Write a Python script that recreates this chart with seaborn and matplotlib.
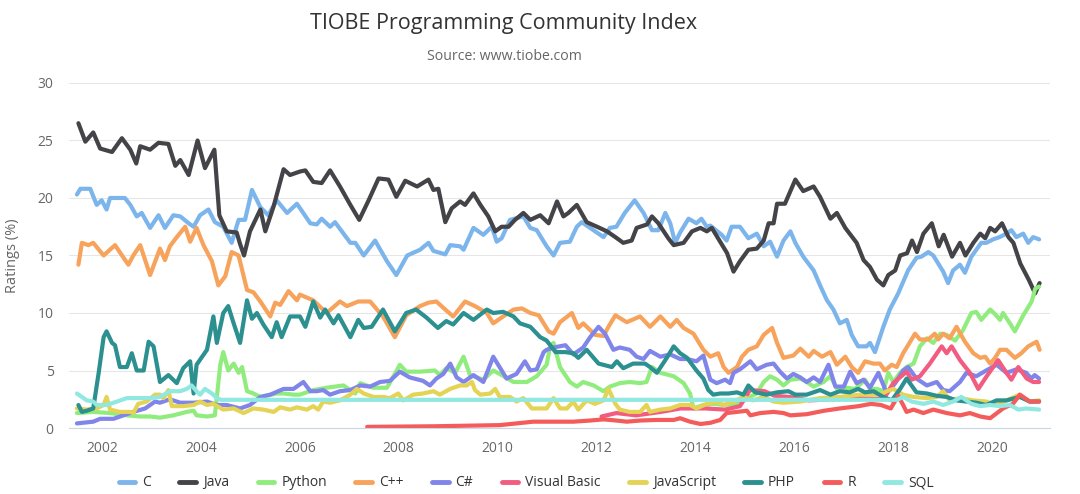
import numpy as np
import pandas as pd
import matplotlib.pyplot as plt
import seaborn as sns
from matplotlib.lines import Line2D

# TIOBE index, values (year as decimal, rating in %)

langs = ["C", "Java", "Python", "C++", "C#", "Visual Basic", "JavaScript", "PHP", "R", "SQL"]
colors = ["#7cb5ec", "#434348", "#90ed7d", "#f7a35c", "#8085e9",
          "#f15c80", "#e4d354", "#2b908f", "#f45b5b", "#91e8e1"]

c_year = [2001.49, 2001.56, 2001.76, 2001.89, 2001.99, 2002.09, 2002.16, 2002.36, 2002.46, 2002.57,
          2002.70, 2002.80, 2002.97, 2003.14, 2003.27, 2003.44, 2003.58, 2003.75, 2003.85, 2003.98,
          2004.15, 2004.28, 2004.45, 2004.62, 2004.76, 2004.89, 2005.03, 2005.20, 2005.36, 2005.53,
          2005.74, 2005.94, 2006.21, 2006.34, 2006.44, 2006.61, 2006.71, 2007.02, 2007.12, 2007.29,
          2007.52, 2007.76, 2007.95, 2008.17, 2008.43, 2008.60, 2008.70, 2008.94, 2009.04, 2009.24,
          2009.31, 2009.51, 2009.71, 2009.88, 2009.98, 2010.08, 2010.25, 2010.52, 2010.66, 2010.79,
          2010.99, 2011.13, 2011.26, 2011.46, 2011.60, 2011.70, 2011.87, 2012.14, 2012.27, 2012.40,
          2012.57, 2012.77, 2012.95, 2013.12, 2013.25, 2013.39, 2013.49, 2013.59, 2013.69, 2013.86,
          2014.02, 2014.12, 2014.23, 2014.30, 2014.53, 2014.63, 2014.73, 2014.90, 2015.07, 2015.24,
          2015.38, 2015.51, 2015.65, 2015.78, 2015.92, 2016.02, 2016.18, 2016.39, 2016.52, 2016.66,
          2016.79, 2016.92, 2017.06, 2017.16, 2017.29, 2017.46, 2017.53, 2017.63, 2017.80, 2017.93,
          2018.10, 2018.30, 2018.47, 2018.57, 2018.71, 2018.81, 2018.91, 2019.01, 2019.11, 2019.21,
          2019.35, 2019.45, 2019.58, 2019.68, 2019.78, 2019.88, 2020.02, 2020.15, 2020.29, 2020.39,
          2020.49, 2020.63, 2020.73, 2020.83, 2020.95]
c_val = [20.3, 20.8, 20.8, 19.4, 19.8, 19.0, 20.0, 20.0, 20.0, 19.4,
         18.4, 18.7, 17.4, 18.5, 17.4, 18.5, 18.4, 17.8, 17.5, 18.5,
         19.0, 17.9, 17.5, 16.1, 18.1, 18.1, 20.7, 19.2, 18.5, 19.8,
         18.7, 19.5, 17.8, 17.7, 18.2, 17.5, 17.9, 16.1, 16.1, 15.0,
         16.3, 14.5, 13.3, 15.0, 15.5, 16.1, 15.4, 15.1, 15.9, 15.8,
         15.5, 17.4, 16.8, 17.5, 16.2, 16.5, 18.1, 18.4, 17.4, 17.2,
         15.8, 15.0, 16.1, 16.2, 17.5, 17.9, 17.4, 16.6, 17.4, 17.5,
         18.7, 19.8, 18.7, 17.2, 17.2, 18.7, 17.8, 16.1, 17.0, 18.2,
         17.8, 18.2, 17.5, 17.6, 16.8, 16.3, 17.5, 17.5, 16.5, 16.9,
         15.8, 16.2, 14.9, 16.3, 17.1, 16.1, 14.9, 13.7, 12.4, 11.1,
         10.3, 9.1, 9.4, 8.1, 7.1, 7.1, 7.4, 6.6, 8.8, 10.3,
         11.7, 13.7, 14.8, 14.9, 15.3, 15.0, 14.3, 13.6, 12.6, 13.7,
         14.2, 13.5, 14.9, 15.5, 16.1, 16.1, 16.4, 16.6, 16.9, 17.2,
         16.6, 16.9, 16.1, 16.6, 16.4]

java_year = [2001.52, 2001.66, 2001.82, 2001.96, 2002.20, 2002.40, 2002.57, 2002.69, 2002.77, 2002.97,
             2003.14, 2003.34, 2003.48, 2003.58, 2003.75, 2003.93, 2004.08, 2004.27, 2004.37, 2004.52,
             2004.72, 2004.79, 2004.87, 2004.99, 2005.20, 2005.30, 2005.47, 2005.67, 2005.80, 2006.00,
             2006.11, 2006.27, 2006.44, 2006.61, 2006.81, 2007.02, 2007.20, 2007.39, 2007.59, 2007.79,
             2007.95, 2008.13, 2008.37, 2008.60, 2008.70, 2008.80, 2008.94, 2009.07, 2009.24, 2009.34,
             2009.51, 2009.65, 2009.81, 2009.95, 2010.08, 2010.22, 2010.35, 2010.52, 2010.66, 2010.86,
             2011.03, 2011.20, 2011.33, 2011.43, 2011.60, 2011.80, 2012.01, 2012.21, 2012.38, 2012.54,
             2012.71, 2012.81, 2013.02, 2013.12, 2013.25, 2013.45, 2013.56, 2013.76, 2013.93, 2014.10,
             2014.23, 2014.33, 2014.50, 2014.64, 2014.77, 2014.90, 2015.07, 2015.24, 2015.38, 2015.48,
             2015.58, 2015.65, 2015.81, 2016.02, 2016.18, 2016.39, 2016.52, 2016.73, 2016.86, 2017.03,
             2017.26, 2017.40, 2017.53, 2017.67, 2017.80, 2017.90, 2018.04, 2018.14, 2018.28, 2018.38,
             2018.48, 2018.61, 2018.78, 2018.92, 2019.02, 2019.19, 2019.35, 2019.46, 2019.62, 2019.76,
             2019.86, 2019.96, 2020.06, 2020.20, 2020.33, 2020.43, 2020.57, 2020.74, 2020.87, 2020.96]
java_val = [26.5, 24.9, 25.7, 24.3, 24.0, 25.2, 24.2, 23.0, 24.5, 24.2,
            24.8, 24.7, 22.8, 23.3, 22.0, 25.0, 22.6, 24.2, 18.5, 17.1,
            17.0, 16.0, 15.0, 17.1, 19.0, 17.1, 19.3, 22.5, 22.0, 22.3,
            22.4, 21.4, 21.3, 22.4, 21.0, 19.4, 18.1, 19.8, 21.7, 21.6,
            20.1, 21.5, 21.0, 21.6, 20.7, 20.8, 17.9, 19.1, 19.7, 19.4,
            20.4, 19.4, 18.4, 17.1, 17.5, 17.5, 18.1, 18.7, 18.1, 18.5,
            17.8, 19.7, 18.4, 18.7, 19.4, 17.9, 17.5, 17.1, 16.6, 16.1,
            16.3, 17.4, 17.7, 18.4, 17.8, 16.5, 15.9, 16.1, 17.1, 17.4,
            17.1, 17.4, 16.2, 15.2, 13.6, 14.5, 15.5, 15.6, 16.3, 17.8,
            17.8, 19.5, 19.5, 21.6, 20.6, 21.0, 20.1, 18.2, 18.7, 17.4,
            16.1, 14.6, 14.0, 12.9, 12.4, 13.3, 13.7, 15.0, 15.2, 16.3,
            15.3, 16.9, 17.8, 15.8, 16.8, 14.9, 16.1, 15.0, 16.1, 16.9,
            16.5, 17.4, 17.1, 17.8, 16.6, 16.1, 14.3, 12.9, 11.7, 12.6]

python_year = [2001.49, 2001.82, 2002.16, 2002.50, 2002.77, 2002.97, 2003.17, 2003.44, 2003.71, 2003.85,
               2003.91, 2004.12, 2004.28, 2004.39, 2004.45, 2004.55, 2004.66, 2004.76, 2004.83, 2004.93,
               2005.06, 2005.20, 2005.53, 2005.67, 2005.87, 2006.00, 2006.27, 2006.54, 2006.88, 2007.12,
               2007.22, 2007.48, 2007.76, 2007.92, 2008.02, 2008.15, 2008.43, 2008.73, 2008.83, 2008.96,
               2009.14, 2009.31, 2009.44, 2009.71, 2009.91, 2010.04, 2010.32, 2010.59, 2010.79, 2010.99,
               2011.06, 2011.13, 2011.26, 2011.46, 2011.60, 2011.73, 2011.94, 2012.14, 2012.27, 2012.47,
               2012.67, 2012.88, 2013.01, 2013.12, 2013.29, 2013.56, 2013.76, 2013.89, 2013.96, 2014.16,
               2014.36, 2014.57, 2014.90, 2015.04, 2015.24, 2015.38, 2015.51, 2015.65, 2015.78, 2015.92,
               2016.12, 2016.25, 2016.39, 2016.59, 2016.73, 2016.89, 2017.06, 2017.23, 2017.43, 2017.53,
               2017.67, 2017.80, 2017.90, 2018.00, 2018.14, 2018.27, 2018.41, 2018.54, 2018.68, 2018.81,
               2018.95, 2019.08, 2019.25, 2019.41, 2019.58, 2019.68, 2019.78, 2019.96, 2020.06, 2020.16,
               2020.22, 2020.36, 2020.46, 2020.63, 2020.80, 2020.87, 2020.95]
python_val = [1.3, 1.4, 1.3, 1.1, 1.0, 1.0, 0.9, 1.1, 1.4, 1.5,
              1.1, 1.0, 1.1, 5.5, 6.6, 5.0, 5.6, 4.8, 5.3, 3.2,
              3.0, 2.7, 3.0, 3.0, 2.9, 2.9, 3.3, 3.5, 3.7, 3.0,
              3.9, 3.5, 3.5, 4.7, 5.5, 4.9, 4.9, 5.0, 4.6, 5.2,
              4.8, 6.2, 4.6, 4.2, 5.0, 4.7, 4.0, 4.0, 4.5, 5.5,
              7.1, 7.4, 5.3, 4.0, 3.6, 4.0, 3.7, 3.2, 3.6, 3.9,
              4.0, 3.9, 4.0, 5.3, 4.8, 4.5, 3.9, 3.0, 1.7, 2.0,
              2.1, 2.0, 2.1, 2.6, 3.0, 4.0, 4.5, 4.2, 3.7, 4.2,
              4.3, 4.0, 3.6, 4.0, 4.5, 3.2, 3.5, 3.4, 4.2, 3.4,
              3.4, 3.2, 4.8, 4.0, 4.8, 5.3, 5.6, 7.1, 7.8, 7.4,
              8.2, 8.1, 7.6, 8.5, 10.0, 10.1, 9.4, 10.3, 9.9, 9.4,
              10.0, 9.1, 8.4, 9.8, 11.0, 12.1, 12.3]

cpp_year = [2001.52, 2001.59, 2001.72, 2001.82, 2002.03, 2002.26, 2002.53, 2002.63, 2002.77, 2002.97,
            2003.17, 2003.27, 2003.37, 2003.51, 2003.68, 2003.78, 2003.91, 2004.05, 2004.22, 2004.35,
            2004.49, 2004.62, 2004.76, 2004.93, 2005.06, 2005.20, 2005.40, 2005.50, 2005.60, 2005.77,
            2005.94, 2006.00, 2006.27, 2006.54, 2006.81, 2006.95, 2007.18, 2007.42, 2007.68, 2007.92,
            2008.15, 2008.43, 2008.60, 2008.76, 2008.94, 2009.10, 2009.34, 2009.54, 2009.78, 2009.91,
            2010.11, 2010.32, 2010.49, 2010.66, 2010.83, 2011.03, 2011.13, 2011.26, 2011.50, 2011.63,
            2011.73, 2011.97, 2012.14, 2012.24, 2012.38, 2012.61, 2012.88, 2013.08, 2013.29, 2013.49,
            2013.62, 2013.76, 2013.96, 2014.16, 2014.30, 2014.46, 2014.57, 2014.67, 2014.84, 2014.94,
            2015.07, 2015.24, 2015.38, 2015.55, 2015.65, 2015.78, 2015.98, 2016.12, 2016.29, 2016.39,
            2016.56, 2016.73, 2016.86, 2017.03, 2017.16, 2017.29, 2017.43, 2017.60, 2017.73, 2017.83,
            2017.97, 2018.07, 2018.20, 2018.30, 2018.44, 2018.54, 2018.71, 2018.84, 2018.91, 2019.01,
            2019.14, 2019.28, 2019.45, 2019.62, 2019.76, 2019.86, 2019.96, 2020.06, 2020.16, 2020.29,
            2020.46, 2020.59, 2020.73, 2020.90, 2020.96]
cpp_val = [14.2, 16.1, 15.9, 16.1, 15.0, 15.9, 14.2, 15.0, 15.9, 13.3,
           15.6, 14.6, 15.8, 16.6, 17.5, 16.2, 17.4, 15.9, 14.5, 12.4,
           13.2, 15.3, 15.0, 12.0, 11.8, 11.0, 9.7, 10.9, 10.7, 11.9,
           11.1, 11.6, 11.1, 10.0, 11.0, 10.6, 11.0, 11.0, 9.7, 7.9,
           9.8, 10.6, 10.9, 11.0, 10.3, 9.7, 11.0, 10.6, 10.0, 9.1,
           9.7, 10.3, 10.4, 10.0, 9.8, 8.4, 8.2, 9.2, 10.0, 8.7,
           9.1, 8.1, 8.0, 8.8, 9.8, 9.2, 9.7, 8.8, 9.7, 8.8,
           9.4, 8.7, 8.2, 6.8, 6.2, 6.5, 5.3, 4.8, 5.3, 6.2,
           6.8, 7.1, 8.1, 8.7, 7.4, 6.1, 6.3, 6.9, 6.2, 6.7,
           6.2, 6.6, 5.5, 6.2, 5.3, 4.8, 5.8, 5.6, 5.6, 5.0,
           5.5, 5.3, 6.5, 7.2, 8.2, 7.7, 7.7, 8.2, 7.7, 8.2,
           7.8, 8.8, 7.5, 6.5, 6.1, 6.2, 5.6, 6.1, 6.8, 6.8,
           6.1, 6.5, 7.1, 7.5, 6.8]

csharp_year = [2001.49, 2001.82, 2001.96, 2002.23, 2002.43, 2002.63, 2002.87, 2003.07, 2003.17, 2003.37,
               2003.58, 2003.85, 2004.12, 2004.32, 2004.52, 2004.79, 2004.99, 2005.20, 2005.40, 2005.67,
               2005.87, 2006.07, 2006.21, 2006.34, 2006.47, 2006.61, 2006.81, 2007.02, 2007.22, 2007.42,
               2007.62, 2007.82, 2008.02, 2008.22, 2008.49, 2008.63, 2008.76, 2008.90, 2009.04, 2009.17,
               2009.31, 2009.51, 2009.71, 2009.91, 2010.18, 2010.38, 2010.55, 2010.66, 2010.79, 2010.93,
               2010.99, 2011.13, 2011.37, 2011.53, 2011.73, 2011.87, 2012.04, 2012.17, 2012.34, 2012.47,
               2012.67, 2012.81, 2012.95, 2013.08, 2013.29, 2013.49, 2013.69, 2013.83, 2014.02, 2014.16,
               2014.30, 2014.43, 2014.60, 2014.70, 2014.77, 2014.90, 2015.11, 2015.24, 2015.44, 2015.58,
               2015.71, 2015.85, 2015.98, 2016.12, 2016.25, 2016.39, 2016.52, 2016.69, 2016.83, 2017.00,
               2017.13, 2017.26, 2017.40, 2017.53, 2017.70, 2017.87, 2018.04, 2018.20, 2018.30, 2018.47,
               2018.68, 2018.88, 2019.01, 2019.14, 2019.35, 2019.48, 2019.68, 2019.88, 2020.09, 2020.29,
               2020.49, 2020.69, 2020.79, 2020.86, 2020.95]
csharp_val = [0.4, 0.55, 0.8, 0.8, 1.1, 1.4, 1.7, 2.3, 2.2, 2.5,
              2.2, 2.2, 2.3, 2.0, 2.0, 1.7, 2.0, 2.7, 2.9, 3.4,
              3.4, 4.0, 3.2, 3.2, 3.3, 2.9, 3.2, 3.3, 3.7, 3.6,
              4.0, 4.1, 4.9, 4.4, 4.1, 3.7, 4.3, 4.7, 5.6, 4.4,
              4.0, 4.6, 4.0, 6.2, 4.3, 4.7, 5.8, 5.0, 5.1, 6.6,
              6.8, 7.0, 7.2, 6.4, 7.0, 7.9, 8.8, 8.2, 6.8, 7.0,
              6.8, 6.2, 6.0, 6.7, 6.2, 6.4, 6.0, 6.0, 5.8, 6.3,
              4.2, 3.9, 4.2, 3.9, 4.8, 5.1, 5.8, 5.1, 5.5, 5.6,
              4.9, 4.3, 4.7, 4.4, 4.0, 4.4, 4.0, 5.5, 3.6, 3.6,
              4.9, 3.9, 4.2, 3.5, 4.8, 3.0, 3.9, 5.0, 5.3, 4.3,
              3.7, 4.0, 3.3, 3.2, 4.0, 4.8, 4.5, 5.0, 5.5, 4.8,
              5.1, 4.8, 4.3, 4.6, 4.3]

vb_year = [2012.10, 2012.40, 2012.80, 2013.30, 2013.70, 2014.20, 2014.60, 2014.90, 2015.10, 2015.40,
           2015.60, 2015.90, 2016.30, 2016.80, 2017.30, 2017.80, 2018.00, 2018.27, 2018.37, 2018.54,
           2018.74, 2018.98, 2019.08, 2019.18, 2019.35, 2019.55, 2019.72, 2019.89, 2020.12, 2020.29,
           2020.39, 2020.53, 2020.70, 2020.83, 2020.95]
vb_val = [1.0, 1.3, 1.1, 1.4, 1.7, 1.7, 1.6, 1.9, 3.3, 3.2,
          2.8, 2.7, 2.4, 2.5, 2.6, 2.5, 3.9, 4.9, 4.2, 4.5,
          5.6, 7.1, 6.5, 7.1, 5.9, 4.8, 3.4, 4.5, 5.9, 4.8,
          4.2, 5.3, 4.3, 4.0, 4.0]

js_year = [2001.49, 2001.69, 2001.89, 2002.03, 2002.09, 2002.16, 2002.36, 2002.57, 2002.63, 2002.73,
           2002.90, 2003.07, 2003.17, 2003.24, 2003.34, 2003.41, 2003.64, 2003.85, 2003.98, 2004.12,
           2004.25, 2004.45, 2004.66, 2004.86, 2005.06, 2005.26, 2005.47, 2005.60, 2005.80, 2005.94,
           2006.14, 2006.27, 2006.37, 2006.47, 2006.61, 2006.81, 2007.02, 2007.15, 2007.29, 2007.49,
           2007.69, 2007.82, 2007.99, 2008.09, 2008.29, 2008.49, 2008.70, 2008.83, 2009.04, 2009.24,
           2009.37, 2009.48, 2009.54, 2009.65, 2009.85, 2009.95, 2010.04, 2010.25, 2010.38, 2010.52,
           2010.69, 2010.86, 2010.99, 2011.13, 2011.26, 2011.40, 2011.53, 2011.63, 2011.80, 2011.97,
           2012.14, 2012.24, 2012.38, 2012.47, 2012.67, 2012.88, 2013.01, 2013.08, 2013.29, 2013.49,
           2013.69, 2013.89, 2014.02, 2014.23, 2014.43, 2014.57, 2014.77, 2014.97, 2015.17, 2015.38,
           2015.58, 2015.78, 2016.12, 2016.52, 2016.92, 2017.33, 2017.53, 2017.73, 2017.87, 2018.00,
           2018.20, 2018.41, 2018.68, 2018.88, 2019.01, 2019.14, 2019.35, 2019.62, 2019.88, 2020.09,
           2020.29, 2020.56, 2020.76, 2020.95]
js_val = [1.7, 1.6, 1.7, 2.0, 2.7, 1.6, 1.4, 1.4, 1.3, 2.1,
          2.3, 2.9, 2.9, 2.6, 3.3, 1.9, 1.9, 2.0, 2.3, 2.0,
          2.1, 1.6, 1.7, 1.3, 1.7, 1.6, 1.4, 1.8, 1.6, 1.8,
          1.6, 1.9, 1.6, 2.3, 2.2, 2.4, 2.9, 3.4, 3.0, 2.7,
          2.7, 2.6, 3.0, 2.4, 2.9, 3.0, 3.2, 2.9, 3.4, 3.7,
          3.7, 4.0, 3.3, 2.9, 3.0, 3.4, 2.7, 2.7, 2.3, 2.6,
          1.7, 1.7, 1.7, 2.6, 1.7, 1.7, 2.3, 1.6, 2.4, 2.1,
          2.4, 3.4, 2.1, 1.6, 1.4, 1.4, 2.0, 1.4, 1.6, 1.7,
          2.0, 2.0, 1.7, 2.1, 2.3, 2.0, 2.3, 2.7, 2.4, 2.7,
          2.3, 2.2, 2.3, 2.6, 2.7, 2.9, 2.9, 2.9, 3.2, 3.4,
          2.9, 2.7, 2.6, 2.7, 3.2, 2.4, 2.6, 2.4, 2.3, 2.0,
          2.4, 2.9, 2.3, 2.4]

php_year = [2001.52, 2001.59, 2001.69, 2001.82, 2001.93, 2002.03, 2002.09, 2002.20, 2002.26, 2002.36,
            2002.50, 2002.60, 2002.70, 2002.84, 2002.94, 2003.04, 2003.17, 2003.34, 2003.51, 2003.64,
            2003.78, 2003.85, 2003.91, 2004.12, 2004.25, 2004.32, 2004.45, 2004.55, 2004.66, 2004.79,
            2004.93, 2005.03, 2005.13, 2005.26, 2005.43, 2005.53, 2005.63, 2005.80, 2006.00, 2006.11,
            2006.27, 2006.41, 2006.51, 2006.68, 2006.78, 2007.02, 2007.18, 2007.29, 2007.45, 2007.68,
            2007.92, 2008.15, 2008.35, 2008.56, 2008.79, 2008.96, 2009.10, 2009.31, 2009.51, 2009.78,
            2009.91, 2010.11, 2010.32, 2010.45, 2010.66, 2010.86, 2010.99, 2011.17, 2011.37, 2011.53,
            2011.63, 2011.80, 2012.04, 2012.31, 2012.41, 2012.54, 2012.74, 2012.98, 2013.08, 2013.22,
            2013.42, 2013.56, 2013.69, 2013.83, 2014.02, 2014.16, 2014.26, 2014.36, 2014.50, 2014.67,
            2014.84, 2014.97, 2015.07, 2015.21, 2015.44, 2015.65, 2015.88, 2016.02, 2016.25, 2016.52,
            2016.73, 2016.92, 2017.12, 2017.29, 2017.43, 2017.60, 2017.80, 2017.97, 2018.14, 2018.27,
            2018.47, 2018.68, 2018.88, 2019.08, 2019.28, 2019.48, 2019.68, 2019.88, 2020.09, 2020.29,
            2020.56, 2020.76, 2020.95]
php_val = [2.0, 1.4, 1.5, 1.7, 4.8, 7.9, 8.4, 7.4, 7.2, 5.3,
           5.3, 6.5, 5.0, 5.0, 7.5, 7.1, 4.0, 4.6, 3.9, 5.2,
           5.8, 3.0, 5.5, 6.8, 9.7, 7.4, 10.0, 10.6, 9.1, 7.4,
           11.1, 9.5, 10.0, 9.0, 7.9, 9.2, 7.9, 9.7, 9.7, 8.8,
           11.0, 9.6, 10.3, 9.1, 9.8, 7.9, 9.4, 8.7, 8.8, 10.3,
           8.4, 10.0, 10.3, 9.6, 8.7, 9.3, 9.0, 10.0, 9.4, 10.3,
           10.0, 10.1, 9.7, 9.1, 8.8, 7.9, 7.6, 6.6, 6.6, 6.5,
           6.1, 6.8, 5.6, 5.3, 5.8, 5.2, 5.6, 5.6, 5.3, 4.8,
           6.1, 7.1, 6.5, 6.1, 5.0, 4.3, 3.3, 2.9, 3.0, 3.0,
           3.1, 2.9, 3.7, 3.1, 2.9, 3.1, 3.2, 2.9, 2.9, 3.3,
           2.9, 3.2, 3.1, 3.4, 3.1, 3.2, 2.7, 2.4, 3.4, 4.3,
           3.1, 3.0, 2.8, 2.7, 2.4, 2.3, 2.2, 2.0, 2.4, 2.4,
           2.7, 2.3, 2.3]

r_year = [2007.36, 2008.70, 2010.04, 2010.72, 2011.06, 2011.53, 2011.87, 2012.14, 2012.40, 2012.61,
          2012.88, 2013.22, 2013.56, 2013.69, 2013.89, 2014.10, 2014.30, 2014.50, 2014.63, 2014.84,
          2015.04, 2015.11, 2015.31, 2015.58, 2015.78, 2015.92, 2016.25, 2016.60, 2016.92, 2017.30,
          2017.55, 2017.75, 2017.95, 2018.10, 2018.20, 2018.27, 2018.41, 2018.61, 2018.81, 2019.08,
          2019.35, 2019.55, 2019.76, 2019.96, 2020.22, 2020.42, 2020.56, 2020.76, 2020.95]
r_val = [0.1, 0.15, 0.25, 0.55, 0.55, 0.55, 0.65, 0.75, 0.65, 0.55,
         0.65, 0.7, 0.7, 0.85, 0.55, 0.35, 0.45, 0.7, 1.3, 1.4,
         1.5, 1.1, 1.3, 1.4, 1.3, 1.1, 1.2, 1.5, 1.7, 1.9,
         2.1, 2.0, 1.7, 2.8, 2.0, 1.4, 1.6, 1.3, 1.6, 1.3,
         1.1, 1.3, 1.0, 0.85, 1.7, 2.1, 2.9, 2.3, 2.3]

sql_year = [2001.49, 2001.69, 2001.82, 2001.89, 2002.09, 2002.30, 2002.50, 2002.77, 2002.97, 2003.17,
            2003.37, 2003.58, 2003.71, 2003.81, 2003.91, 2003.98, 2004.08, 2004.22, 2004.32, 2004.40,
            2018.08, 2018.20, 2018.37, 2018.61, 2018.81, 2019.01, 2019.21, 2019.38, 2019.58, 2019.76,
            2019.96, 2020.16, 2020.36, 2020.53, 2020.69, 2020.95]
sql_val = [3.0, 2.4, 2.3, 2.0, 2.0, 2.3, 2.6, 2.6, 2.6, 2.7,
           3.2, 3.2, 3.4, 3.7, 3.2, 2.9, 3.4, 3.0, 2.6, 2.45,
           2.45, 2.7, 2.3, 2.1, 2.3, 2.0, 2.3, 2.7, 2.1, 1.9,
           2.0, 1.9, 2.0, 1.6, 1.7, 1.6]

series = {
    "C": (c_year, c_val),
    "Java": (java_year, java_val),
    "Python": (python_year, python_val),
    "C++": (cpp_year, cpp_val),
    "C#": (csharp_year, csharp_val),
    "Visual Basic": (vb_year, vb_val),
    "JavaScript": (js_year, js_val),
    "PHP": (php_year, php_val),
    "R": (r_year, r_val),
    "SQL": (sql_year, sql_val),
}

frames = [pd.DataFrame({"year": y, "rating": v, "lang": name}) for name, (y, v) in series.items()]
df = pd.concat(frames, ignore_index=True)

# style
sns.set_style("white")
plt.rcParams["font.family"] = ["Open Sans", "DejaVu Sans"]

fig = plt.figure(figsize=(10.8, 4.94), dpi=100)
ax = fig.add_axes([0.0639, 0.1336, 0.9083, 0.6984])

sns.lineplot(data=df, x="year", y="rating", hue="lang", hue_order=langs, palette=colors,
             estimator=None, sort=True, linewidth=3, legend=False, ax=ax)
for line in ax.get_lines():
    line.set_solid_joinstyle("round")
    line.set_solid_capstyle("round")

ax.set_xlim(2001.33, 2021.17)
ax.set_ylim(0, 30)
ax.set_yticks(range(0, 31, 5))
ax.set_xticks(range(2002, 2021, 2))
ax.grid(axis="y", color="#e6e6e6", linewidth=0.75)
ax.grid(axis="x", visible=False)
ax.set_axisbelow(True)

for side in ["top", "right", "left"]:
    ax.spines[side].set_visible(False)
ax.spines["bottom"].set_color("#ccd6eb")
ax.spines["bottom"].set_linewidth(0.8)

ax.tick_params(axis="x", length=7, width=0.75, color="#ccd6eb", labelcolor="#666666",
               labelsize=10, pad=2)
ax.tick_params(axis="y", length=0, labelcolor="#666666", labelsize=10, pad=11)

ax.set_xlabel("")
ax.set_ylabel("Ratings (%)", color="#666666", fontsize=10.5)
ax.yaxis.set_label_coords(-0.05, 0.5)

fig.text(0.4667, 0.953, "TIOBE Programming Community Index", ha="center", va="center",
         fontsize=15.5, color="#333333")
fig.text(0.4667, 0.886, "Source: www.tiobe.com", ha="center", va="center",
         fontsize=10.2, color="#666666")

handles = [Line2D([0], [0], color=col, linewidth=3.5, solid_capstyle="round") for col in colors]
fig.legend(handles, langs, loc="center", bbox_to_anchor=(0.487, 0.0223), ncol=10, frameon=False,
           fontsize=10, labelcolor="#333333", handlelength=1.2, handletextpad=0.5,
           columnspacing=2.05, borderaxespad=0)

plt.savefig("out.png", dpi=100)
